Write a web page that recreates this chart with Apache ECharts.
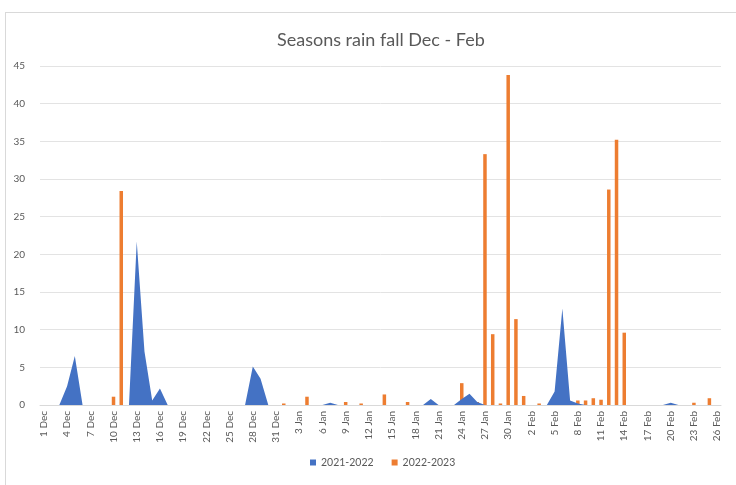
<!DOCTYPE html>
<html>
<head>
<meta charset="utf-8">
<script src="https://cdn.jsdelivr.net/npm/echarts@6/dist/echarts.min.js"></script>
<style>
  html, body { margin: 0; padding: 0; background: #ffffff; }
  #frame {
    position: absolute; left: 5px; top: 12px; width: 740px; height: 490px;
    border: 1px solid #d9d9d9; box-sizing: border-box;
  }
  #chart { position: absolute; left: 0; top: 0; width: 736px; height: 485px; }
</style>
</head>
<body>
<div id="frame"></div>
<div id="chart"></div>
<script>
// day labels Dec 1 .. Feb 26
const months = [['Dec', 31], ['Jan', 31], ['Feb', 26]];
const days = [];
months.forEach(([m, n]) => { for (let d = 1; d <= n; d++) days.push(d + ' ' + m); });

// 2021-2022 rainfall (mm)
const rain2122Dec = [0, 0, 0, 2.5, 6.5, 0, 0, 0, 0, 0, 0, 0, 21.7, 7.1, 0.6, 2.2, 0, 0, 0, 0, 0, 0, 0, 0, 0, 0, 0, 5.1, 3.5, 0, 0];
const rain2122Jan = [0, 0, 0, 0, 0, 0, 0.3, 0, 0, 0, 0, 0, 0, 0, 0, 0, 0, 0, 0, 0.8, 0, 0, 0, 0.8, 1.5, 0.4, 0, 0, 0, 0, 0];
const rain2122Feb = [0, 0, 0, 0, 1.8, 12.8, 0.6, 0.2, 0, 0, 0, 0, 0, 0, 0, 0, 0, 0, 0, 0.3, 0, 0, 0, 0, 0, 0];

// 2022-2023 rainfall (mm)
const rain2223Dec = [0, 0, 0, 0, 0, 0, 0, 0, 0, 1.1, 28.4, 0, 0, 0, 0, 0, 0, 0, 0, 0, 0, 0, 0, 0, 0, 0, 0, 0, 0, 0, 0];
const rain2223Jan = [0.2, 0, 0, 1.1, 0, 0, 0, 0, 0.4, 0, 0.2, 0, 0, 1.4, 0, 0, 0.4, 0, 0, 0, 0, 0, 0, 2.9, 0, 0.4, 33.3, 9.4, 0.2, 43.8, 11.4];
const rain2223Feb = [1.2, 0, 0.2, 0, 0, 0.6, 0, 0.6, 0.6, 0.9, 0.7, 28.6, 35.2, 9.6, 0, 0, 0, 0, 0, 0, 0, 0, 0.3, 0, 0.9, 0];

const rain2122 = rain2122Dec.concat(rain2122Jan, rain2122Feb);
const rain2223 = rain2223Dec.concat(rain2223Jan, rain2223Feb);

const chart = echarts.init(document.getElementById('chart'));
const font = 'Lato, "Open Sans", sans-serif';

chart.setOption({
  animation: false,
  title: {
    text: 'Seasons rain fall Dec - Feb',
    left: 272,
    top: 26,
    textStyle: { fontFamily: font, fontSize: 18, fontWeight: 'normal', color: '#595959' }
  },
  legend: {
    bottom: 12,
    left: 305,
    icon: 'rect',
    itemWidth: 6,
    itemHeight: 6,
    itemGap: 18,
    textStyle: { fontFamily: font, fontSize: 10.5, color: '#595959' },
    data: ['2021-2022', '2022-2023']
  },
  grid: { left: 40, right: 15, top: 66, bottom: 80 },
  xAxis: {
    type: 'category',
    data: days,
    boundaryGap: true,
    axisLine: { lineStyle: { color: '#d9d9d9' } },
    axisTick: { show: false },
    axisLabel: {
      interval: 2,
      rotate: 90,
      margin: 6,
      fontFamily: font,
      fontSize: 10,
      color: '#595959'
    }
  },
  yAxis: {
    type: 'value',
    min: 0,
    max: 45,
    interval: 5,
    axisLine: { show: false },
    axisTick: { show: false },
    splitLine: { lineStyle: { color: '#e3e3e3' } },
    axisLabel: { margin: 15, fontFamily: font, fontSize: 10, color: '#595959' }
  },
  series: [
    {
      name: '2021-2022',
      type: 'line',
      data: rain2122,
      symbol: 'none',
      lineStyle: { width: 0 },
      itemStyle: { color: '#4472C4' },
      areaStyle: { color: '#4472C4', opacity: 1 }
    },
    {
      name: '2022-2023',
      type: 'bar',
      data: rain2223,
      barWidth: 3.5,
      itemStyle: { color: '#ED7D31' }
    }
  ]
});
</script>
</body>
</html>
